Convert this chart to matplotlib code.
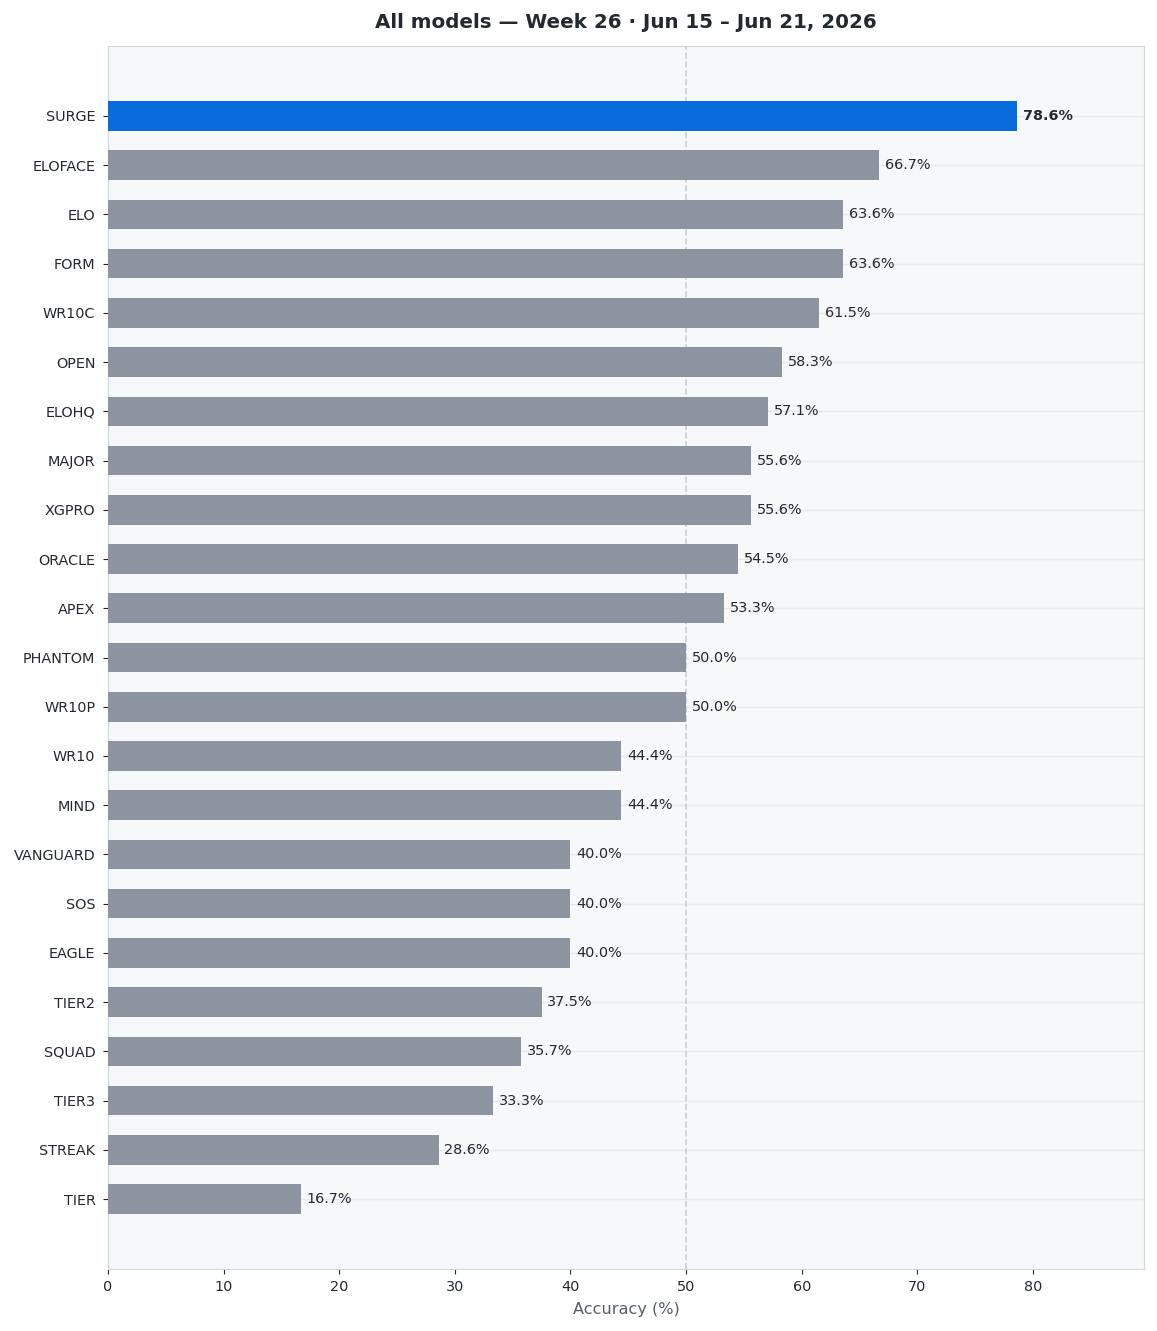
import matplotlib
matplotlib.use("Agg")
import matplotlib.pyplot as plt

models = ["SURGE", "ELOFACE", "ELO", "FORM", "WR10C", "OPEN", "ELOHQ", "MAJOR", "XGPRO",
          "ORACLE", "APEX", "PHANTOM", "WR10P", "WR10", "MIND", "VANGUARD", "SOS", "EAGLE",
          "TIER2", "SQUAD", "TIER3", "STREAK", "TIER"]
accuracy = [78.6, 66.7, 63.6, 63.6, 61.5, 58.3, 57.1, 55.6, 55.6,
            54.5, 53.3, 50.0, 50.0, 44.4, 44.4, 40.0, 40.0, 40.0,
            37.5, 35.7, 33.3, 28.6, 16.7]
highlight = "SURGE"
title = "All models — Week 26 · Jun 15 – Jun 21, 2026"

fig = plt.figure(figsize=(11.57, 13.31), dpi=100)
ax = fig.add_axes([108/1157, 1 - 1269/1331, (1144-108)/1157, (1269-46)/1331])
ax.set_facecolor("#f6f8fa")
fig.patch.set_facecolor("white")

ypos = list(range(len(models)))
colors = ["#0a6bdc" if m == highlight else "#8c94a0" for m in models]
ax.barh(ypos, accuracy, height=0.6, color=colors, zorder=3)

ax.set_yticks(ypos)
ax.set_yticklabels(models, fontsize=10.4, color="#24292f")
ax.set_xlim(0, max(accuracy) * 1.14)
ax.set_ylim(len(models) - 1 + 1.42, -1.42)
ax.set_xticks(range(0, 90, 10))
ax.tick_params(axis="x", labelsize=10.4, colors="#24292f", pad=4.5)
ax.tick_params(axis="y", colors="#24292f", pad=5.5)

ax.grid(axis="y", color="#e6e9ef", linewidth=1, zorder=0)
ax.grid(axis="x", visible=False)
ax.axvline(50, color="#c8ced6", linestyle="--", linewidth=1.2, zorder=2)

for s in ax.spines.values():
    s.set_color("#d0d7e2")

for y, v, m in zip(ypos, accuracy, models):
    ax.text(v + 0.5, y, f"{v:.1f}%", va="center", ha="left", fontsize=10.4,
            color="#24292f", fontweight="bold" if m == highlight else "normal", zorder=4)

ax.set_xlabel("Accuracy (%)", fontsize=11.6, color="#57606a", labelpad=6)
ax.set_title(title, fontsize=14.3, fontweight="bold", color="#24292f", pad=13)

fig.savefig("out.png", dpi=100)
